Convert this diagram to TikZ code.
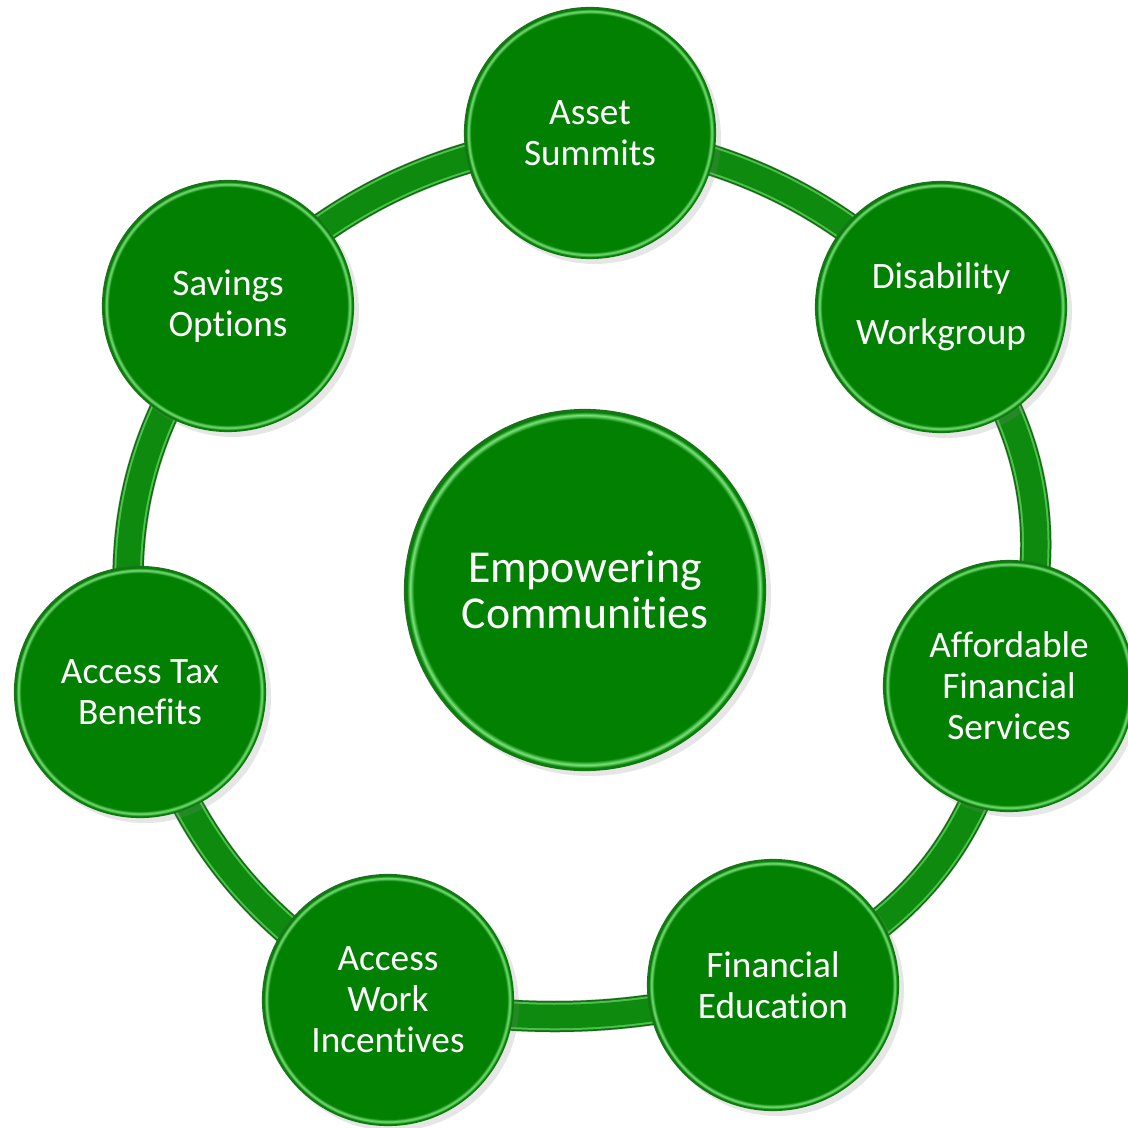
\documentclass[tikz,border=0pt]{standalone}
\usepackage{fontspec}
\setmainfont{Carlito}[RawFeature={-liga;-clig;-dlig;-calt}]
\usetikzlibrary{shadows}

\definecolor{leaf}{RGB}{2,128,2}
\definecolor{leafdark}{RGB}{30,112,30}
\definecolor{leaflight}{RGB}{125,228,125}
\definecolor{bandmid}{RGB}{14,138,14}
\definecolor{bandedge}{RGB}{75,195,75}
\definecolor{banddark}{RGB}{20,108,20}

% glossy rim for the discs: flat green body, bright ring just inside the edge
\pgfdeclareradialshading{greenrim}{\pgfpoint{0bp}{0bp}}{%
  color(0bp)=(leaf); color(23.6bp)=(leaf); color(24.15bp)=(leaflight);
  color(24.6bp)=(leaf); color(25bp)=(leafdark); color(50bp)=(leafdark)}

\pgfdeclarelayer{back}
\pgfsetlayers{back,main}

\tikzset{
  disc/.style={circle, inner sep=0pt, shading=greenrim, text=white, align=center,
    drop shadow={shadow xshift=1.4pt, shadow yshift=-1.4pt, opacity=0.2}},
  outerdisc/.style={disc, minimum size=2.52cm, font=\fontsize{10.6}{11.7}\selectfont},
  hubdisc/.style={disc, minimum size=3.62cm, font=\fontsize{13}{13.3}\selectfont},
  bandshadow/.style={draw=black, opacity=0.16, line width=0.32cm},
  bandouter/.style={draw=banddark, line width=0.31cm},
  bandinner/.style={draw=bandedge, line width=0.02cm, double=bandmid, double distance=0.235cm},
}

\begin{document}
\begin{tikzpicture}[x=0.01cm, y=-0.01cm]
  \useasboundingbox (0,0) rectangle (1128,1128);

  % central hub
  \node[hubdisc] (hub) at (585,590) {Empowering\\Communities};

  % discs around the ring
  \node[outerdisc] (asset)  at (590,133)  {Asset\\Summits};
  \node[outerdisc, font=\fontsize{10.6}{16}\selectfont] (disab) at (941,307) {Disability\\Workgroup};
  \node[outerdisc] (afford) at (1009,686) {Affordable\\Financial\\Services};
  \node[outerdisc] (fined)  at (773,985)  {Financial\\Education};
  \node[outerdisc] (work)   at (388,1000) {Access\\Work\\Incentives};
  \node[outerdisc] (tax)    at (140,692)  {Access Tax\\Benefits};
  \node[outerdisc] (sav)    at (228,306)  {Savings\\Options};

  % the ring joining the discs
  \begin{pgfonlayer}{back}
    \begin{scope}[xshift=1.3pt, yshift=-1.3pt]
      \foreach \a/\b/\ang in {asset/disab/18, disab/afford/30, afford/fined/29,
                              fined/work/12, work/tax/21, tax/sav/24, sav/asset/18}
        \draw[bandshadow] (\a.center) to[bend left=\ang] (\b.center);
    \end{scope}
    \foreach \a/\b/\ang in {asset/disab/18, disab/afford/30, afford/fined/29,
                            fined/work/12, work/tax/21, tax/sav/24, sav/asset/18}
      \draw[bandouter] (\a.center) to[bend left=\ang] (\b.center);
    \foreach \a/\b/\ang in {asset/disab/18, disab/afford/30, afford/fined/29,
                            fined/work/12, work/tax/21, tax/sav/24, sav/asset/18}
      \draw[bandinner] (\a.center) to[bend left=\ang] (\b.center);
  \end{pgfonlayer}
\end{tikzpicture}
\end{document}
